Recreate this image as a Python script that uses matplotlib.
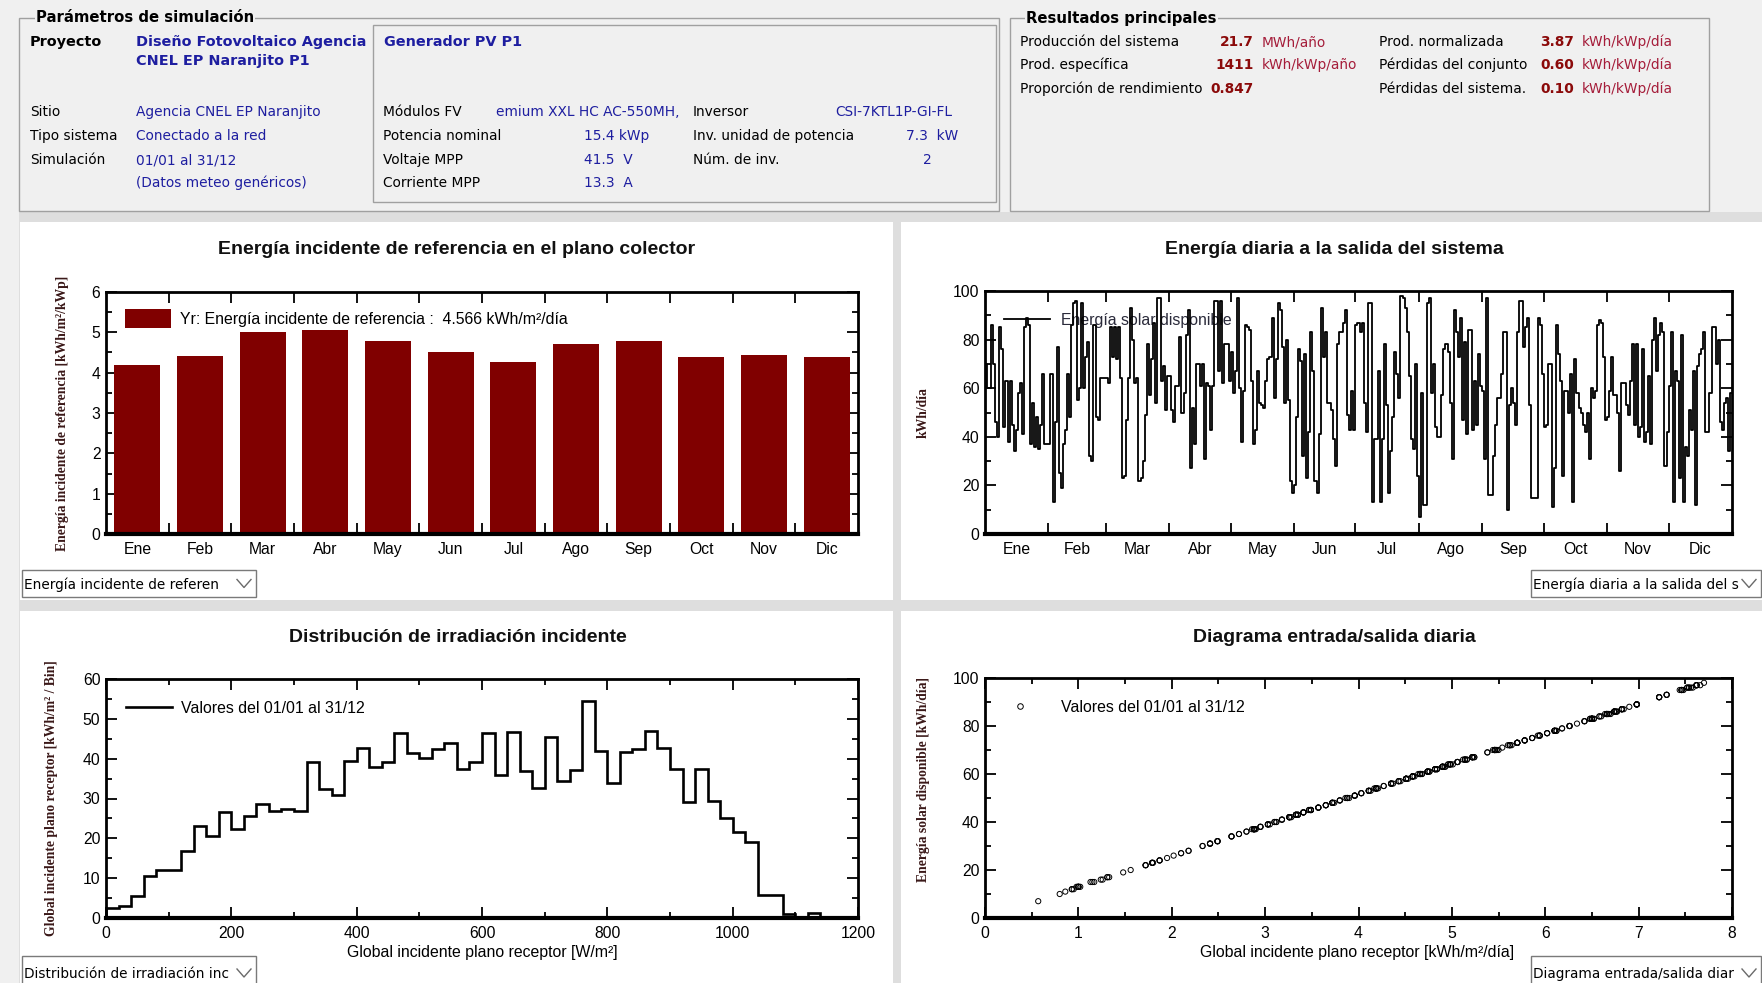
import numpy as np
import matplotlib
matplotlib.use("Agg")
import matplotlib.pyplot as plt
from matplotlib.patches import Rectangle, Patch
from matplotlib.lines import Line2D
from matplotlib.ticker import MultipleLocator, NullFormatter, FixedLocator, FixedFormatter

plt.rcParams['font.family'] = ['Liberation Sans', 'DejaVu Sans']

# ---------------- data ----------------
months = ['Ene', 'Feb', 'Mar', 'Abr', 'May', 'Jun', 'Jul', 'Ago', 'Sep', 'Oct', 'Nov', 'Dic']
days_per_month = [31, 28, 31, 30, 31, 30, 31, 31, 30, 31, 30, 31]
yr_monthly = [4.20, 4.42, 5.00, 5.07, 4.78, 4.50, 4.27, 4.72, 4.78, 4.38, 4.45, 4.38]

# daily energy at system output [kWh/day], one row per month
daily_output = [
    70, 60, 60, 86, 70, 46, 40, 85, 76, 44, 63, 38, 63, 45, 34, 43, 58, 62, 41, 85, 89, 86, 37, 54, 36, 48, 35, 45, 66, 37, 37,
    37, 66, 13, 46, 77, 25, 19, 37, 43, 66, 48, 86, 95, 96, 55, 60, 95, 60, 73, 79, 32, 30, 86, 48, 47, 64, 64, 64,
    64, 62, 85, 73, 85, 72, 85, 64, 23, 24, 47, 64, 93, 80, 62, 64, 22, 23, 30, 49, 78, 57, 72, 87, 54, 97, 97, 63, 69, 51, 65,
    65, 51, 46, 61, 61, 81, 50, 58, 82, 92, 27, 52, 37, 70, 70, 61, 70, 31, 62, 61, 43, 61, 96, 96, 67, 96, 62, 78, 78, 63,
    75, 58, 67, 97, 60, 38, 59, 86, 85, 84, 63, 37, 43, 67, 54, 53, 52, 63, 72, 73, 89, 56, 72, 95, 92, 77, 54, 80, 55, 22, 17,
    20, 48, 76, 71, 32, 74, 23, 42, 83, 67, 22, 17, 41, 93, 73, 83, 54, 54, 51, 39, 28, 78, 83, 83, 87, 92, 49, 43, 59, 43,
    86, 87, 83, 87, 54, 42, 95, 95, 13, 39, 39, 67, 13, 39, 78, 53, 17, 34, 48, 75, 66, 56, 98, 97, 93, 83, 65, 39, 35, 70, 24,
    7, 58, 12, 12, 95, 97, 58, 70, 44, 40, 40, 57, 76, 78, 75, 54, 31, 92, 83, 73, 89, 47, 79, 41, 84, 84, 43, 63, 45, 74, 61,
    59, 31, 97, 16, 16, 32, 45, 56, 56, 66, 83, 83, 10, 53, 60, 54, 45, 83, 96, 96, 77, 85, 89, 53, 15, 15, 15, 89, 86, 66,
    44, 45, 70, 70, 11, 27, 86, 74, 63, 24, 59, 59, 50, 66, 13, 72, 58, 52, 50, 45, 42, 50, 31, 60, 56, 59, 86, 88, 87, 73, 47,
    48, 59, 73, 57, 57, 50, 26, 62, 62, 53, 49, 63, 78, 45, 78, 40, 44, 76, 38, 42, 65, 37, 80, 89, 67, 82, 87, 83, 28, 42,
    61, 83, 13, 67, 63, 23, 82, 13, 36, 32, 51, 43, 67, 12, 69, 74, 76, 83, 42, 42, 58, 85, 85, 70, 80, 46, 43, 54, 56, 34, 58,
]

# daily global incident irradiation on collector plane [kWh/m2/day], one row per month
daily_irradiation = [
    5.46, 4.68, 4.64, 6.74, 5.50, 3.57, 3.12, 6.66, 5.92, 3.41, 4.90, 2.95, 4.93, 3.49, 2.64, 3.35, 4.51, 4.82, 3.18, 6.70, 6.98, 6.77, 2.88, 4.19, 2.80, 3.72, 2.72, 3.47, 5.14, 2.90, 2.86,
    2.88, 5.16, 1.00, 3.57, 6.02, 1.95, 1.48, 2.89, 3.33, 5.12, 3.74, 6.74, 7.46, 7.56, 4.27, 4.66, 7.48, 4.68, 5.70, 6.18, 2.49, 2.33, 6.76, 3.72, 3.65, 4.98, 5.01, 4.96,
    4.98, 4.82, 6.66, 5.70, 6.68, 5.62, 6.64, 4.99, 1.79, 1.87, 3.65, 4.96, 7.30, 6.26, 4.84, 4.98, 1.72, 1.80, 2.33, 3.80, 6.10, 4.43, 5.64, 6.82, 4.19, 7.62, 7.66, 4.90, 5.38, 3.96, 5.06,
    5.06, 3.96, 3.57, 4.74, 4.76, 6.34, 3.88, 4.51, 6.42, 7.22, 2.10, 4.03, 2.88, 5.46, 5.48, 4.74, 5.44, 2.41, 4.82, 4.76, 3.33, 4.74, 7.54, 7.58, 5.22, 7.52, 4.84, 6.10, 6.12, 4.90,
    5.86, 4.51, 5.22, 7.62, 4.66, 2.95, 4.58, 6.74, 6.66, 6.58, 4.90, 2.88, 3.35, 5.24, 4.19, 4.11, 4.03, 4.92, 5.62, 5.70, 6.98, 4.35, 5.60, 7.46, 7.22, 6.02, 4.21, 6.26, 4.27, 1.72, 1.31,
    1.56, 3.72, 5.94, 5.54, 2.49, 5.78, 1.79, 3.26, 6.50, 5.22, 1.72, 1.33, 3.18, 7.30, 5.70, 6.52, 4.19, 4.17, 3.96, 3.03, 2.18, 6.10, 6.48, 6.50, 6.82, 7.22, 3.80, 3.33, 4.58, 3.35,
    6.74, 6.82, 6.50, 6.84, 4.19, 3.26, 7.46, 7.44, 1.00, 3.03, 3.05, 5.22, 1.02, 3.03, 6.10, 4.11, 1.31, 2.64, 3.72, 5.86, 5.14, 4.35, 7.70, 7.62, 7.30, 6.50, 5.06, 3.03, 2.72, 5.46, 1.87,
    0.57, 4.51, 0.93, 0.95, 7.46, 7.62, 4.53, 5.46, 3.41, 3.10, 3.12, 4.43, 5.94, 6.10, 5.86, 4.19, 2.41, 7.22, 6.50, 5.70, 6.98, 3.65, 6.18, 3.18, 6.58, 6.60, 3.33, 4.90, 3.49, 5.78, 4.74,
    4.58, 2.41, 7.62, 1.24, 1.26, 2.49, 3.49, 4.35, 4.37, 5.14, 6.50, 6.48, 0.80, 4.11, 4.66, 4.19, 3.47, 6.50, 7.54, 7.52, 6.02, 6.66, 6.98, 4.13, 1.15, 1.13, 1.17, 6.98, 6.74, 5.16,
    3.41, 3.49, 5.46, 5.48, 0.86, 2.10, 6.74, 5.78, 4.90, 1.87, 4.58, 4.60, 3.88, 5.14, 1.00, 5.62, 4.51, 4.03, 3.90, 3.49, 3.26, 3.86, 2.41, 4.66, 4.35, 4.58, 6.76, 6.90, 6.82, 5.70, 3.65,
    3.72, 4.58, 5.70, 4.43, 4.45, 3.88, 2.02, 4.82, 4.84, 4.11, 3.80, 4.90, 6.10, 3.49, 6.12, 3.10, 3.41, 5.94, 2.95, 3.26, 5.06, 2.88, 6.26, 6.98, 5.22, 6.42, 6.82, 6.50, 2.18, 3.26,
    4.74, 6.50, 1.00, 5.22, 4.90, 1.79, 6.42, 0.98, 2.80, 2.49, 3.96, 3.33, 5.24, 0.93, 5.38, 5.78, 5.94, 6.52, 3.26, 3.28, 4.51, 6.66, 6.68, 5.46, 6.26, 3.57, 3.35, 4.19, 4.35, 2.64, 4.51,
]

# irradiance distribution, 20 W/m2 bins starting at 0
hist_bin_width = 20
hist_values = [2.6, 2.9, 5.6, 10.5, 12.0, 12.0, 16.8, 23.0, 20.5, 26.5, 22.3, 25.7, 28.6, 26.8, 27.4,
               26.8, 39.2, 32.3, 30.8, 39.5, 42.8, 37.8, 39.2, 46.5, 41.3, 40.2, 42.5, 44.0, 37.5,
               39.2, 46.5, 35.8, 46.8, 37.0, 32.7, 45.5, 34.3, 37.2, 54.5, 42.0, 34.0, 41.6, 42.5,
               47.0, 42.8, 37.3, 29.0, 37.5, 29.4, 25.0, 21.7, 19.0, 5.7, 5.7, 1.1, 0.0, 1.2, 0.0]

# ---------------- figure ----------------
W, H = 1762, 983
fig = plt.figure(figsize=(W / 100, H / 100), dpi=100)
fig.patch.set_facecolor('#f0f0f0')

ov = fig.add_axes([0, 0, 1, 1])
ov.set_xlim(0, W)
ov.set_ylim(H, 0)
ov.axis('off')


def rect(x0, y0, x1, y1, **kw):
    r = Rectangle((x0, y0), x1 - x0, y1 - y0, **kw)
    ov.add_patch(r)
    return r


# chart panels
rect(19, 212, W, H, facecolor='#dedede', edgecolor='none')
for (x0, y0, x1, y1) in [(20, 222, 893, 600), (901, 222, W, 600), (20, 611, 893, H), (901, 611, W, H)]:
    rect(x0, y0, x1, y1, facecolor='white', edgecolor='none')

# group boxes
rect(19, 18, 999, 211, facecolor='none', edgecolor='#a0a0a0', lw=1)
rect(373, 25, 996, 202, facecolor='none', edgecolor='#a0a0a0', lw=1)
rect(1010, 18, 1709, 211, facecolor='none', edgecolor='#a0a0a0', lw=1)

BLUE = '#1e1ea0'
RED_NUM = '#8b0a0a'
RED_UNIT = '#a51d3a'
HF = dict(family='DejaVu Sans', va='center')
FS_N = 9.9
FS_B = 10.4

ov.text(36, 18, 'Parámetros de simulación', fontweight='bold', color='black', fontsize=10.7,
        bbox=dict(facecolor='#f0f0f0', edgecolor='none', pad=1), **HF)
ov.text(1026, 18, 'Resultados principales', fontweight='bold', color='black', fontsize=10.7,
        bbox=dict(facecolor='#f0f0f0', edgecolor='none', pad=1), **HF)

header_items = [
    ('Proyecto', 30, 42, 'bold', 'black', 'left'),
    ('Diseño Fotovoltaico Agencia', 136, 42, 'bold', BLUE, 'left'),
    ('CNEL EP Naranjito P1', 136, 61, 'bold', BLUE, 'left'),
    ('Generador PV P1', 384, 42, 'bold', BLUE, 'left'),
    ('Sitio', 30, 112, 'normal', 'black', 'left'),
    ('Agencia CNEL EP Naranjito', 136, 112, 'normal', BLUE, 'left'),
    ('Tipo sistema', 30, 136, 'normal', 'black', 'left'),
    ('Conectado a la red', 136, 136, 'normal', BLUE, 'left'),
    ('Simulación', 30, 160, 'normal', 'black', 'left'),
    ('01/01 al 31/12', 136, 160, 'normal', BLUE, 'left'),
    ('(Datos meteo genéricos)', 136, 183, 'normal', BLUE, 'left'),
    ('Módulos FV', 383, 112, 'normal', 'black', 'left'),
    ('emium XXL HC AC-550MH,', 496, 112, 'normal', BLUE, 'left'),
    ('Potencia nominal', 383, 136, 'normal', 'black', 'left'),
    ('15.4 kWp', 584, 136, 'normal', BLUE, 'left'),
    ('Voltaje MPP', 383, 160, 'normal', 'black', 'left'),
    ('41.5  V', 584, 160, 'normal', BLUE, 'left'),
    ('Corriente MPP', 383, 183, 'normal', 'black', 'left'),
    ('13.3  A', 584, 183, 'normal', BLUE, 'left'),
    ('Inversor', 693, 112, 'normal', 'black', 'left'),
    ('CSI-7KTL1P-GI-FL', 835, 112, 'normal', BLUE, 'left'),
    ('Inv. unidad de potencia', 693, 136, 'normal', 'black', 'left'),
    ('7.3  kW', 906, 136, 'normal', BLUE, 'left'),
    ('Núm. de inv.', 693, 160, 'normal', 'black', 'left'),
    ('2', 923, 160, 'normal', BLUE, 'left'),
    # results
    ('Producción del sistema', 1020, 42, 'normal', 'black', 'left'),
    ('21.7', 1254, 42, 'bold', RED_NUM, 'right'),
    ('MWh/año', 1262, 42, 'normal', RED_UNIT, 'left'),
    ('Prod. específica', 1020, 65, 'normal', 'black', 'left'),
    ('1411', 1254, 65, 'bold', RED_NUM, 'right'),
    ('kWh/kWp/año', 1262, 65, 'normal', RED_UNIT, 'left'),
    ('Proporción de rendimiento', 1020, 89, 'normal', 'black', 'left'),
    ('0.847', 1254, 89, 'bold', RED_NUM, 'right'),
    ('Prod. normalizada', 1379, 42, 'normal', 'black', 'left'),
    ('3.87', 1574, 42, 'bold', RED_NUM, 'right'),
    ('kWh/kWp/día', 1582, 42, 'normal', RED_UNIT, 'left'),
    ('Pérdidas del conjunto', 1379, 65, 'normal', 'black', 'left'),
    ('0.60', 1574, 65, 'bold', RED_NUM, 'right'),
    ('kWh/kWp/día', 1582, 65, 'normal', RED_UNIT, 'left'),
    ('Pérdidas del sistema.', 1379, 89, 'normal', 'black', 'left'),
    ('0.10', 1574, 89, 'bold', RED_NUM, 'right'),
    ('kWh/kWp/día', 1582, 89, 'normal', RED_UNIT, 'left'),
]
for txt, x, y, wt, col, ha in header_items:
    fs = FS_B if (wt == 'bold' and col != RED_NUM) else FS_N
    ov.text(x, y, txt, fontweight=wt, color=col, ha=ha, fontsize=fs, **HF)


# dropdown boxes (text shown truncated, as in the application)
def dropdown(x0, y0, x1, y1, text):
    rect(x0, y0, x1, y1, facecolor='white', edgecolor='#7a7a7a', lw=1)
    ov.text(x0 + 2, (y0 + y1) / 2 + 1, text, family='DejaVu Sans', fontsize=9.8,
            va='center', ha='left', color='black')
    cx = x1 - 12
    cy = (y0 + y1) / 2
    ov.plot([cx - 7, cx, cx + 7], [cy - 4, cy + 4, cy - 4], color='#6a6a6a', lw=1)


dropdown(22, 570, 256, 597, 'Energía incidente de referen')
dropdown(1531, 570, 1761, 597, 'Energía diaria a la salida del s')
dropdown(22, 956, 256, 990, 'Distribución de irradiación inc')
dropdown(1531, 956, 1761, 990, 'Diagrama entrada/salida diar')

# panel titles
TF = dict(fontsize=14, fontweight='bold', ha='center', va='center', color='#111111')
ov.text(457, 249, 'Energía incidente de referencia en el plano colector', **TF)
ov.text(1334, 249, 'Energía diaria a la salida del sistema', **TF)
ov.text(458, 637, 'Distribución de irradiación incidente', **TF)
ov.text(1334, 637, 'Diagrama entrada/salida diaria', **TF)


# ---------------- chart axes ----------------
def add_ax(x0, y0, x1, y1):
    return fig.add_axes([x0 / W, 1 - y1 / H, (x1 - x0) / W, (y1 - y0) / H])


def style(ax):
    for s in ax.spines.values():
        s.set_linewidth(2.0)
        s.set_color('black')
    ax.spines['bottom'].set_linewidth(3.0)
    ax.tick_params(which='both', direction='in', top=True, right=True, width=1.3,
                   colors='black', labelsize=11.3)
    ax.tick_params(which='major', length=8, pad=4)
    ax.tick_params(which='minor', length=4, pad=4)


YL = dict(family=['Liberation Serif', 'DejaVu Serif'], fontsize=9.8, fontweight='bold', color='#3a1818')
LEGF = dict(family=['Liberation Sans', 'DejaVu Sans'], size=11.4)

# chart 1: monthly bars
ax1 = add_ax(106, 292, 858, 534)
style(ax1)
xm = np.arange(len(months))
ax1.bar(xm, yr_monthly, width=0.73, color='#800000', edgecolor='none', zorder=2)
ax1.set_xlim(-0.5, len(months) - 0.5)
ax1.set_ylim(0, 6)
ax1.xaxis.set_major_locator(FixedLocator(xm[:-1] + 0.5))
ax1.xaxis.set_major_formatter(NullFormatter())
ax1.xaxis.set_minor_locator(FixedLocator(xm))
ax1.xaxis.set_minor_formatter(FixedFormatter(months))
ax1.tick_params(axis='x', which='minor', length=0, pad=6)
ax1.yaxis.set_major_locator(MultipleLocator(1))
ax1.yaxis.set_minor_locator(MultipleLocator(0.5))
ax1.set_ylabel('Energía incidente de referencia [kWh/m²/kWp]', **YL)
ax1.yaxis.set_label_coords(-0.049, 0.5)
ax1.legend(handles=[Patch(facecolor='#800000', edgecolor='none')],
           labels=['Yr: Energía incidente de referencia :  4.566 kWh/m²/día'],
           loc='upper left', bbox_to_anchor=(0.0253, 0.93), frameon=False,
           borderaxespad=0, borderpad=0, handlelength=2.9, handleheight=1.5,
           handletextpad=0.6, prop=LEGF)

# chart 2: daily output (step line)
ax2 = add_ax(985, 291, 1732, 534)
style(ax2)
days = np.arange(len(daily_output))
ax2.plot(days, daily_output, drawstyle='steps-mid', color='black', lw=1.3, zorder=3)
ax2.set_xlim(-0.5, len(daily_output) - 0.5)
ax2.set_ylim(0, 100)
ends = np.cumsum(days_per_month)
starts = ends - np.array(days_per_month)
ax2.xaxis.set_major_locator(FixedLocator(ends[:-1] - 0.5))
ax2.xaxis.set_major_formatter(NullFormatter())
ax2.xaxis.set_minor_locator(FixedLocator(starts + (np.array(days_per_month) - 1) / 2))
ax2.xaxis.set_minor_formatter(FixedFormatter(months))
ax2.tick_params(axis='x', which='minor', length=0, pad=6)
ax2.yaxis.set_major_locator(MultipleLocator(20))
ax2.yaxis.set_minor_locator(MultipleLocator(10))
ax2.set_ylabel('kWh/día', **YL)
ax2.yaxis.set_label_coords(-0.0736, 0.5)
leg2 = ax2.legend(handles=[Line2D([], [], color='black', lw=1.3)], labels=['Energía solar disponible'],
                  loc='upper left', bbox_to_anchor=(0.0254, 0.91), frameon=False,
                  borderaxespad=0, borderpad=0, handlelength=2.9, handletextpad=0.7, prop=LEGF)
for t in leg2.get_texts():
    t.set_color('#2a2a3a')
leg2.set_zorder(1)

# chart 3: irradiance distribution
ax3 = add_ax(106, 679, 858, 918)
style(ax3)
edges = np.arange(len(hist_values) + 1) * hist_bin_width
ax3.stairs(hist_values, edges, color='black', lw=1.9, baseline=0, zorder=3)
ax3.set_xlim(0, 1200)
ax3.set_ylim(0, 60)
ax3.xaxis.set_major_locator(MultipleLocator(200))
ax3.xaxis.set_minor_locator(MultipleLocator(100))
ax3.yaxis.set_major_locator(MultipleLocator(10))
ax3.yaxis.set_minor_locator(MultipleLocator(5))
ax3.tick_params(axis='x', which='both', pad=6)
ax3.set_ylabel('Global incidente plano receptor [kWh/m² / Bin]', **YL)
ax3.yaxis.set_label_coords(-0.064, 0.5)
ax3.set_xlabel('Global incidente plano receptor [W/m²]', fontsize=11.4)
ax3.xaxis.set_label_coords(0.5, -0.112)
ax3.legend(handles=[Line2D([], [], color='black', lw=1.9)], labels=['Valores del 01/01 al 31/12'],
           loc='upper left', bbox_to_anchor=(0.0266, 0.91), frameon=False,
           borderaxespad=0, borderpad=0, handlelength=2.9, handletextpad=0.6, prop=LEGF)

# chart 4: input/output scatter
ax4 = add_ax(985, 678, 1732, 918)
style(ax4)
ax4.scatter(daily_irradiation, daily_output, s=14, facecolors='none', edgecolors='black',
            linewidths=0.7, zorder=3)
ax4.set_xlim(0, 8)
ax4.set_ylim(0, 100)
ax4.xaxis.set_major_locator(MultipleLocator(1))
ax4.xaxis.set_minor_locator(MultipleLocator(0.5))
ax4.yaxis.set_major_locator(MultipleLocator(20))
ax4.yaxis.set_minor_locator(MultipleLocator(10))
ax4.tick_params(axis='x', which='both', pad=6)
ax4.set_ylabel('Energía solar disponible [kWh/día]', **YL)
ax4.yaxis.set_label_coords(-0.0736, 0.575)
ax4.set_xlabel('Global incidente plano receptor [kWh/m²/día]', fontsize=11.4)
ax4.xaxis.set_label_coords(0.498, -0.112)
ax4.legend(handles=[Line2D([], [], marker='o', ls='none', mfc='none', mec='black', ms=4, mew=0.7)],
           labels=['Valores del 01/01 al 31/12'],
           loc='upper left', bbox_to_anchor=(0.0174, 0.91), frameon=False,
           borderaxespad=0, borderpad=0, handlelength=2.8, handletextpad=1.2, prop=LEGF)

fig.savefig('out.png', dpi=100, facecolor=fig.get_facecolor())
